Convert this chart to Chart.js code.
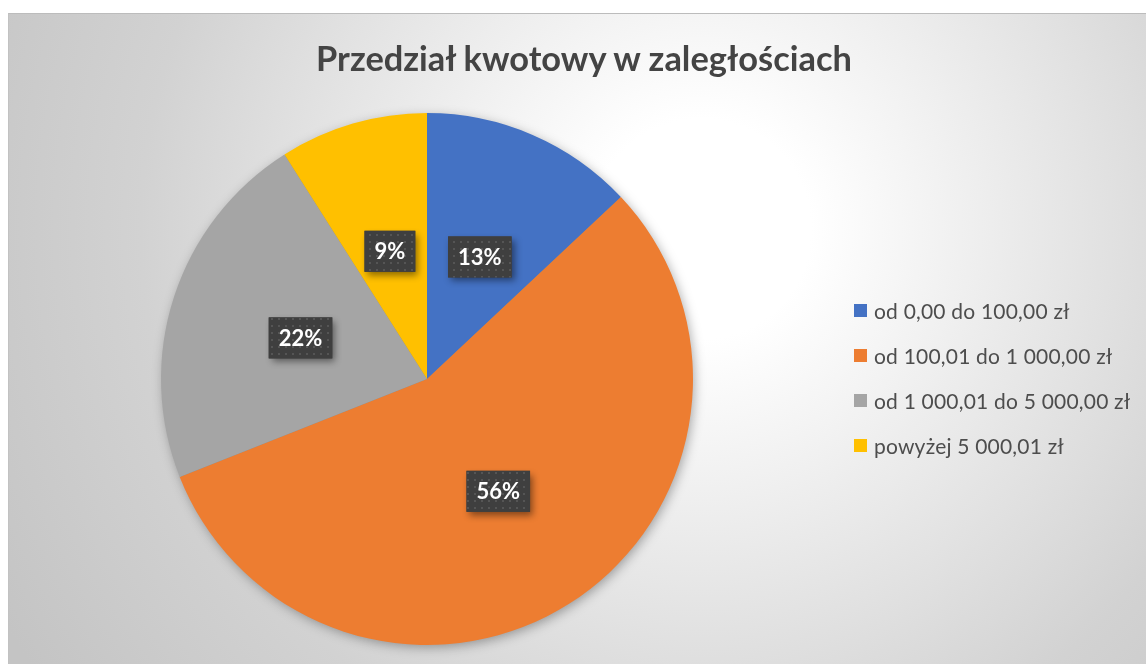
<!DOCTYPE html>
<html lang="pl">
<head>
<meta charset="utf-8">
<script src="https://cdn.jsdelivr.net/npm/chart.js@4"></script>
<style>
  html, body { margin: 0; padding: 0; background: #fff; width: 1146px; height: 664px; overflow: hidden; }
  #box {
    position: absolute; left: 8px; top: 13px; width: 1138px; height: 651px;
    border-top: 1px solid #bcbcbc; border-left: 1px solid #c2c2c2; box-sizing: border-box;
    background: radial-gradient(circle at 692px 215px, #ffffff 0px, #ffffff 110px, #ececec 300px, #d2d2d2 560px, #c4c4c4 800px);
    font-family: Lato, "Open Sans", sans-serif;
  }
  #title {
    position: absolute; left: 0; width: 1150px; top: 23px; text-align: center;
    font-size: 34.4px; font-weight: 700; color: #444;
  }
  #chart-wrap { position: absolute; left: 0; top: 0; width: 1138px; height: 651px; }
  #chart-legend { position: absolute; left: 845px; top: 274px; }
  .legend-item { display: flex; align-items: center; height: 45px; font-size: 21px; letter-spacing: 0.2px; color: #4d4d4d; white-space: nowrap; }
  .legend-dot { display: inline-block; width: 13px; height: 13px; margin-right: 7px; }
</style>
</head>
<body>
<div id="box">
  <div id="chart-wrap"><canvas id="pie"></canvas></div>
  <div id="title">Przedział kwotowy w zaległościach</div>
  <div id="chart-legend"></div>
</div>
<script>
const categories = [
  "od 0,00 do 100,00 zł",
  "od 100,01 do 1 000,00 zł",
  "od 1 000,01 do 5 000,00 zł",
  "powyżej 5 000,01 zł",
];
const shares = [13, 56, 22, 9];
const sliceColors = ["#4472C4", "#ED7D31", "#A5A5A5", "#FFC000"];

function renderLegend(el, items) {
  el.innerHTML = items
    .map(
      (i) =>
        `<div class="legend-item"><span class="legend-dot" style="background:${i.color}"></span>${i.label}</div>`
    )
    .join("");
}

// small dotted texture like the label boxes in the original
function dotPattern(ctx) {
  const c = document.createElement("canvas");
  c.width = 7;
  c.height = 7;
  const p = c.getContext("2d");
  p.fillStyle = "#3f3f3f";
  p.fillRect(0, 0, 7, 7);
  p.fillStyle = "#555555";
  p.fillRect(3, 3, 2, 2);
  return ctx.createPattern(c, "repeat");
}

const pieShadow = {
  id: "pieShadow",
  beforeDatasetsDraw(chart) {
    const arc = chart.getDatasetMeta(0).data[0];
    if (!arc) return;
    const ctx = chart.ctx;
    ctx.save();
    ctx.shadowColor = "rgba(0,0,0,0.35)";
    ctx.shadowBlur = 12;
    ctx.shadowOffsetX = 2;
    ctx.shadowOffsetY = 3;
    ctx.fillStyle = "#888";
    ctx.beginPath();
    ctx.arc(arc.x, arc.y, arc.outerRadius - 1, 0, Math.PI * 2);
    ctx.fill();
    ctx.restore();
  },
};

const boxLabels = {
  id: "boxLabels",
  afterDatasetsDraw(chart) {
    const ctx = chart.ctx;
    const pattern = dotPattern(ctx);
    const total = shares.reduce((a, b) => a + b, 0);
    chart.getDatasetMeta(0).data.forEach((arc, i) => {
      const pos = arc.tooltipPosition();
      const text = Math.round((shares[i] / total) * 100) + "%";
      ctx.save();
      ctx.font = "bold 22px Lato, 'Open Sans', sans-serif";
      const w = ctx.measureText(text).width + 20;
      const h = 41;
      const x = pos.x - w / 2;
      const y = pos.y - h / 2;
      ctx.shadowColor = "rgba(0,0,0,0.45)";
      ctx.shadowBlur = 7;
      ctx.shadowOffsetX = 3;
      ctx.shadowOffsetY = 4;
      ctx.fillStyle = "#3f3f3f";
      ctx.fillRect(x, y, w, h);
      ctx.shadowColor = "transparent";
      ctx.fillStyle = pattern;
      ctx.fillRect(x, y, w, h);
      ctx.fillStyle = "#ffffff";
      ctx.textAlign = "center";
      ctx.textBaseline = "middle";
      ctx.fillText(text, pos.x, pos.y + 1);
      ctx.restore();
    });
  },
};

renderLegend(
  document.getElementById("chart-legend"),
  categories.map((c, i) => ({ color: sliceColors[i], label: c }))
);

new Chart(document.getElementById("pie"), {
  type: "pie",
  data: {
    labels: categories,
    datasets: [
      {
        data: shares,
        backgroundColor: sliceColors,
        borderWidth: 0,
      },
    ],
  },
  options: {
    responsive: true,
    maintainAspectRatio: false,
    animation: false,
    layout: { padding: { left: 152, right: 454, top: 99, bottom: 20 } },
    plugins: {
      legend: { display: false },
      tooltip: { enabled: false },
    },
  },
  plugins: [pieShadow, boxLabels],
});
</script>
</body>
</html>
